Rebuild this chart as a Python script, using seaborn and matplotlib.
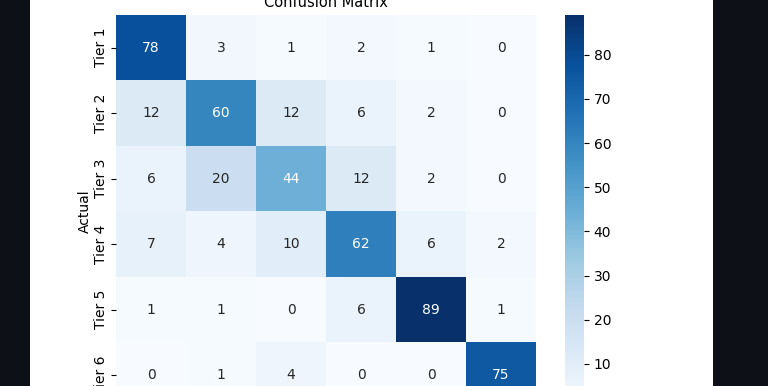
import matplotlib
matplotlib.use('Agg')
import matplotlib.pyplot as plt
import seaborn as sns
import numpy as np
from matplotlib.patches import Rectangle

# ---------------------------------------------------------
# data
# ---------------------------------------------------------
tiers = ['Tier 1', 'Tier 2', 'Tier 3', 'Tier 4', 'Tier 5', 'Tier 6']
row_tier1 = [78, 3, 1, 2, 1, 0]
row_tier2 = [12, 60, 12, 6, 2, 0]
row_tier3 = [6, 20, 44, 12, 2, 0]
row_tier4 = [7, 4, 10, 62, 6, 2]
row_tier5 = [1, 1, 0, 6, 89, 1]
row_tier6 = [0, 1, 4, 0, 0, 75]

cm = np.array([row_tier1, row_tier2, row_tier3, row_tier4, row_tier5, row_tier6])

W, H = 768, 386
fig = plt.figure(figsize=(W / 100, H / 100), dpi=100, facecolor='#0d1117')

# white figure area inside the dark screenshot frame
fig.patches.append(Rectangle((30 / W, 0), (713 - 30) / W, 1, transform=fig.transFigure,
                             facecolor='white', edgecolor='none', zorder=-10))

# heatmap extends below the visible crop
top, bottom = 15, 408
ax = fig.add_axes([116 / W, 1 - bottom / H, 420 / W, (bottom - top) / H])
cax = fig.add_axes([565 / W, 1 - bottom / H, 19 / W, (bottom - top) / H])

sns.heatmap(cm, annot=True, fmt='d', cmap='Blues', ax=ax, cbar_ax=cax,
            xticklabels=tiers, yticklabels=tiers)

ax.set_yticklabels(tiers, rotation=90, va='center')
ax.tick_params(axis='y', pad=2.5)
ax.set_title('Confusion Matrix', fontsize=10.5)
ax.set_ylabel('Actual', labelpad=1.5)
ax.set_xlabel('Predicted')

fig.savefig('out.png', dpi=100, facecolor=fig.get_facecolor())
